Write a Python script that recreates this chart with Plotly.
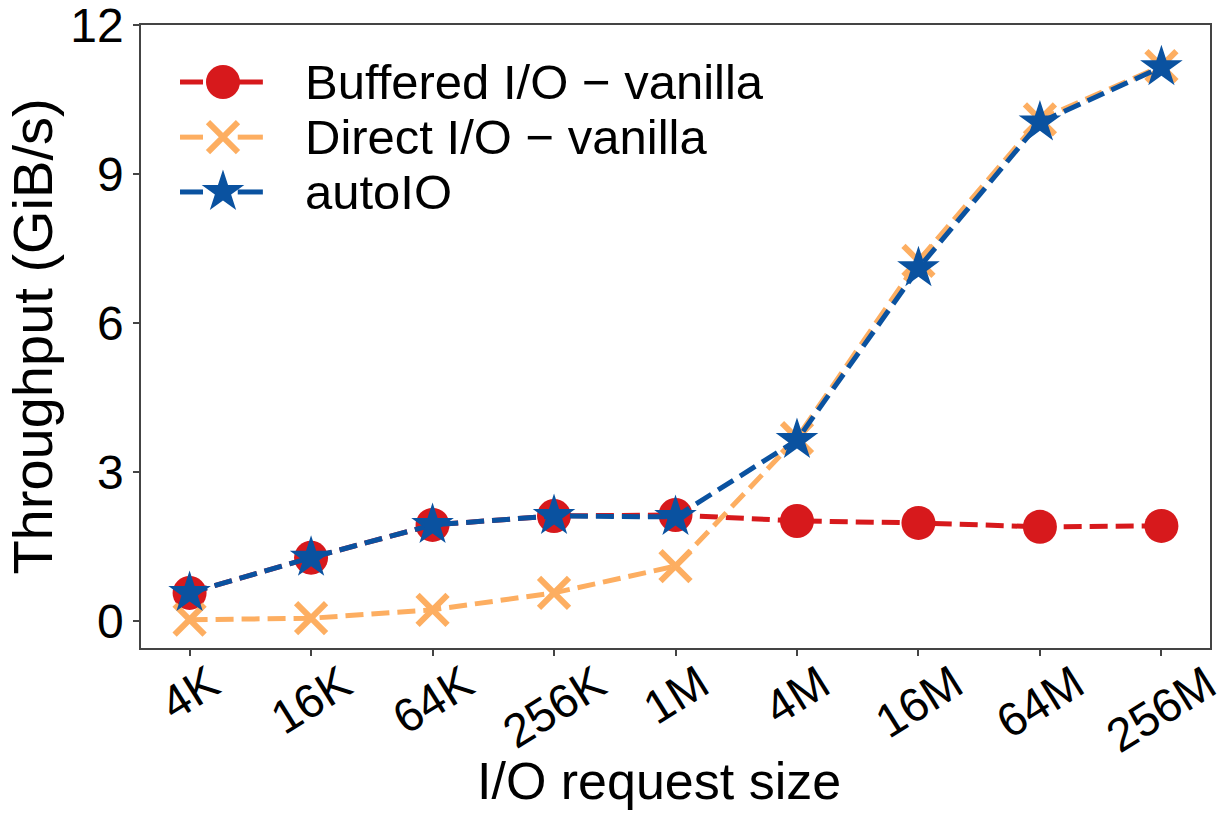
import plotly.graph_objects as go

# I/O request sizes on the x axis
sizes = ["4K", "16K", "64K", "256K", "1M", "4M", "16M", "64M", "256M"]

# Throughput in GiB/s for each configuration
buffered_vanilla = [0.56, 1.27, 1.93, 2.11, 2.13, 2.01, 1.97, 1.89, 1.91]
direct_vanilla = [0.02, 0.05, 0.22, 0.56, 1.10, 3.68, 7.25, 10.10, 11.17]
auto_io = [0.56, 1.27, 1.93, 2.11, 2.09, 3.64, 7.10, 10.04, 11.15]

series_names = ["Buffered I/O \u2212 vanilla", "Direct I/O \u2212 vanilla", "autoIO"]
y_ticks = [0, 3, 6, 9, 12]

RED = "#d7191c"
ORANGE = "#fdae61"
BLUE = "#0a52a0"
FONT = "Liberation Sans, Arial, sans-serif"
DASH = "18px,8px"

styles = [
    dict(color=RED, symbol="circle", size=34),
    dict(color=ORANGE, symbol="x-thin-open", size=30),
    dict(color=BLUE, symbol="star", size=32),
]
series = [buffered_vanilla, direct_vanilla, auto_io]


def marker_style(st):
    if st["symbol"] == "x-thin-open":
        return dict(symbol=st["symbol"], size=st["size"], color=st["color"],
                    line=dict(color=st["color"], width=6))
    return dict(symbol=st["symbol"], size=st["size"], color=st["color"],
                line=dict(width=0))


fig = go.Figure()
xidx = list(range(len(sizes)))

for name, ys, st in zip(series_names, series, styles):
    fig.add_trace(go.Scatter(
        x=xidx, y=ys, name=name, mode="lines+markers",
        line=dict(color=st["color"], width=5, dash=DASH),
        marker=marker_style(st), showlegend=False,
    ))

# Legend drawn on an overlay axis spanning the plot area (0..1 both ways)
legend_rows = [0.9085, 0.820, 0.732]
for name, st, yr in zip(series_names, styles, legend_rows):
    fig.add_trace(go.Scatter(
        x=[0.0365, 0.114], y=[yr, yr], mode="lines",
        line=dict(color=st["color"], width=5, dash="23px,60px"),
        xaxis="x2", yaxis="y2", showlegend=False, hoverinfo="skip",
    ))
    fig.add_trace(go.Scatter(
        x=[0.0905, 0.114], y=[yr, yr], mode="lines",
        line=dict(color=st["color"], width=5),
        xaxis="x2", yaxis="y2", showlegend=False, hoverinfo="skip",
    ))
    fig.add_trace(go.Scatter(
        x=[0.0767], y=[yr], mode="markers", marker=marker_style(st),
        xaxis="x2", yaxis="y2", showlegend=False, hoverinfo="skip",
    ))
    fig.add_annotation(
        x=0.152, y=yr, xref="x2", yref="y2", text=name, showarrow=False,
        xanchor="left", yanchor="middle",
        font=dict(family=FONT, size=49, color="black"),
    )

# Rotated category labels, centred under each tick
for i, lab in enumerate(sizes):
    fig.add_annotation(
        x=i, y=0, xref="x", yref="paper", text=lab, showarrow=False,
        textangle=-32, xanchor="center", yanchor="top", yshift=-4,
        font=dict(family=FONT, size=47, color="black"),
    )

# Axis title under the rotated labels
fig.add_annotation(
    x=0.485, y=0, xref="paper", yref="paper", text="I/O request size",
    showarrow=False, xanchor="center", yanchor="middle", yshift=-133,
    borderpad=0, font=dict(family=FONT, size=52, color="black"),
)

axis_line = dict(showline=True, linecolor="#444444", linewidth=1.5, mirror=True,
                 ticks="outside", ticklen=6, tickwidth=1.5, tickcolor="#444444",
                 showgrid=False, zeroline=False, automargin=False)

fig.update_layout(
    width=1232, height=813,
    margin=dict(l=141, r=22, t=25, b=165),
    paper_bgcolor="white", plot_bgcolor="white",
    font=dict(family=FONT, color="black"),
    xaxis=dict(
        range=[-0.4, 8.4], tickmode="array", tickvals=xidx, ticktext=sizes,
        showticklabels=False,
        **axis_line,
    ),
    yaxis=dict(
        range=[-0.55, 12], tickmode="array", tickvals=y_ticks,
        ticktext=[str(v) for v in y_ticks], tickfont=dict(size=48),
        ticklabeloverflow="allow",
        title=dict(text="Throughput (GiB/s)", font=dict(size=56), standoff=0),
        **axis_line,
    ),
    xaxis2=dict(range=[0, 1], overlaying="x", visible=False),
    yaxis2=dict(range=[0, 1], overlaying="y", visible=False),
    showlegend=False,
)

fig.write_html("out.html")
